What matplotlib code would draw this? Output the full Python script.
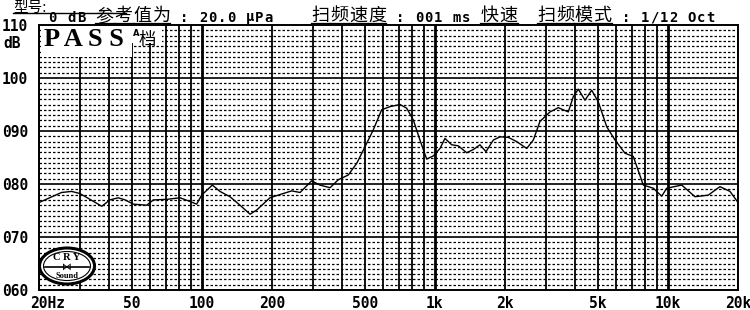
import matplotlib
matplotlib.use("Agg")
import matplotlib.pyplot as plt
from matplotlib.patches import Ellipse, Rectangle
from matplotlib.transforms import blended_transform_factory

W, H = 750, 310

### 曲线数据 (Hz, dB)
freq = [20, 21.2, 23.0, 25.0, 27.6, 30.0, 33.1, 37.2, 40.3, 43.8, 46.8, 50.8,
        58.0, 61.9, 70.6, 80.6, 88.9, 95.0, 99.8, 110.9, 119.6, 132, 145.8, 161,
        172, 196, 216, 243, 264, 296, 321, 355, 385, 425, 462, 501, 544, 591,
        642, 709, 757, 808, 863, 922, 985, 1052, 1105, 1181, 1261, 1370, 1462,
        1562, 1657, 1783, 1904, 2066, 2245, 2479, 2646, 2825, 3120, 3387, 3738,
        3929, 4128, 4409, 4710, 5028, 5465, 5931, 6548, 7107, 7844, 8662, 9411,
        9886, 11465, 13077, 14910, 16734, 18477, 19860]
spl = [76.5, 77.0, 77.7, 78.4, 78.6, 78.2, 77.1, 75.8, 77.0, 77.4, 77.0, 76.2,
       76.0, 77.0, 77.1, 77.4, 76.7, 76.2, 77.9, 79.8, 78.6, 77.6, 76.0, 74.3,
       75.1, 77.4, 78.0, 78.7, 78.4, 80.6, 79.8, 79.3, 80.8, 81.7, 83.9, 87.0,
       90.2, 94.0, 94.6, 95.0, 94.3, 92.1, 88.3, 84.7, 85.3, 86.7, 88.6, 87.4,
       87.2, 85.9, 86.5, 87.4, 86.1, 88.3, 88.9, 88.8, 88.0, 86.7, 88.3, 91.8,
       93.6, 94.4, 93.6, 96.5, 97.9, 95.8, 97.7, 95.5, 90.8, 88.3, 85.8, 85.2,
       79.8, 79.2, 77.7, 79.2, 79.8, 77.6, 77.9, 79.5, 78.6, 76.7]

x_tick_freqs = [20, 50, 100, 200, 500, 1000, 2000, 5000, 10000, 20000]
x_tick_labels = ["20Hz", "50", "100", "200", "500", "1k", "2k", "5k", "10k", "20k"]
y_ticks = [60, 70, 80, 90, 100, 110]
y_tick_labels = ["060", "070", "080", "090", "100", "110"]
grid_freqs = [m * d for d in (10, 100, 1000, 10000) for m in range(1, 10)
              if 20 <= m * d <= 20000]

header = "0 dB 参考值为 : 20.0 μPa    扫频速度 : 001 ms 快速  扫频模式 : 1/12 Oct"
model_label = "型号:"

MONO = dict(family="DejaVu Sans Mono", weight="bold")
CJK = ["Noto Sans CJK SC", "DejaVu Sans"]


def fx(x):
  return x / W


def fy(y):
  return 1 - y / H


def is_cjk(ch):
  return ord(ch) > 0x2E80


### 고정폭 한 줄 출력 (반각 9.4px)
def put_line(fig, text, x0, y, cell=9.4):
  x = x0
  for ch in text:
    wide = is_cjk(ch)
    w = cell * 2 if wide else cell
    if ch != " ":
      if wide:
        fig.text(fx(x + w / 2), fy(y - 1.5), ch, ha="center", va="center",
                 fontsize=13, family=CJK)
        fig.add_artist(plt.Line2D([fx(x), fx(x + w)], [fy(y + 5.5)] * 2,
                                  color="black", lw=0.9,
                                  transform=fig.transFigure))
      else:
        fig.text(fx(x + w / 2), fy(y), ch, ha="center", va="center",
                 fontsize=10, **MONO)
    x += w


fig = plt.figure(figsize=(W / 100, H / 100), dpi=100)
ax = fig.add_axes([fx(39), fy(290), 699 / W, 265 / H])
ax.set_xscale("log")
ax.set_xlim(20, 20000)
ax.set_ylim(60, 110)

# 격자
for v in range(61, 110):
  if v % 10:
    ax.axhline(v, color="black", lw=0.9, ls=(0, (2, 1.6)), zorder=1)
for v in (70, 80, 90, 100):
  ax.axhline(v, color="#222222", lw=1.4, zorder=2)
for f in grid_freqs:
  lw = 2.0 if f in (100, 1000, 10000) else 1.3
  ax.axvline(f, color="black", lw=lw, zorder=2)

ax.plot(freq, spl, color="black", lw=1.0, zorder=5)

for s in ax.spines.values():
  s.set_linewidth(1.4)
  s.set_color("black")

ax.set_xticks([])
ax.set_yticks(y_ticks)
ax.set_yticklabels(y_tick_labels, fontsize=10.5, **MONO)
ax.tick_params(axis="y", length=0, pad=8)
ax.minorticks_off()

tr = blended_transform_factory(ax.transData, ax.transAxes)
for f, lab in zip(x_tick_freqs, x_tick_labels):
  if lab == "20Hz":
    f = f * 10 ** (9 / 233)
  ax.text(f, -13 / 265, lab, transform=tr, ha="center", va="center",
          fontsize=10.5, clip_on=False, **MONO)

fig.text(fx(3), fy(43), "dB", ha="left", va="center", fontsize=10.5, **MONO)

# PASS 박스
fig.add_artist(Rectangle((fx(41), fy(57)), 91 / W, 31 / H,
                         transform=fig.transFigure, facecolor="white",
                         edgecolor="none", zorder=3))
fig.add_artist(Rectangle((fx(132), fy(43)), 30 / W, 17 / H,
                         transform=fig.transFigure, facecolor="white",
                         edgecolor="none", zorder=3))
for f in (30, 40):
  ln = ax.vlines(f, 104, 106.8, color="black", lw=1.0, ls=(0, (2, 1.5)))
  ln.set_zorder(4)
fig.text(fx(44), fy(40), "P A S S", ha="left", va="center", fontsize=19,
         family="Liberation Serif", weight="bold", zorder=6)
fig.text(fx(133), fy(33), "A", ha="left", va="center", fontsize=6,
         family="DejaVu Sans", weight="bold", zorder=6)
fig.text(fx(139), fy(40), "档", ha="left", va="center", fontsize=12.5,
         family=CJK, zorder=6)

# 헤더
fig.text(fx(13), fy(7.5), model_label, ha="left", va="center", fontsize=10.5,
         family=CJK)
fig.add_artist(plt.Line2D([fx(13), fx(126)], [fy(13), fy(13)], color="black",
                          lw=1.0, transform=fig.transFigure))
put_line(fig, header, 48, 17.5)

# 로고
fig.add_artist(Ellipse((fx(67), fy(266)), 55 / W, 36 / H, transform=fig.transFigure,
                       facecolor="white", edgecolor="black", lw=2.2, zorder=6))
fig.add_artist(Ellipse((fx(67), fy(266)), 47 / W, 29 / H, transform=fig.transFigure,
                       facecolor="none", edgecolor="black", lw=0.8, zorder=6))
fig.text(fx(67), fy(258), "C R Y", ha="center", va="center", fontsize=7.5,
         family="Liberation Serif", weight="bold", zorder=7)
fig.add_artist(plt.Line2D([fx(45), fx(89)], [fy(267), fy(267)], color="black",
                          lw=1.2, transform=fig.transFigure, zorder=7))
fig.text(fx(67), fy(267), "⋈", ha="center", va="center", fontsize=7,
         family="DejaVu Sans", zorder=7)
fig.text(fx(67), fy(276), "Sound", ha="center", va="center", fontsize=6,
         family="Liberation Serif", weight="bold", zorder=7)

fig.savefig("out.png", dpi=100)
